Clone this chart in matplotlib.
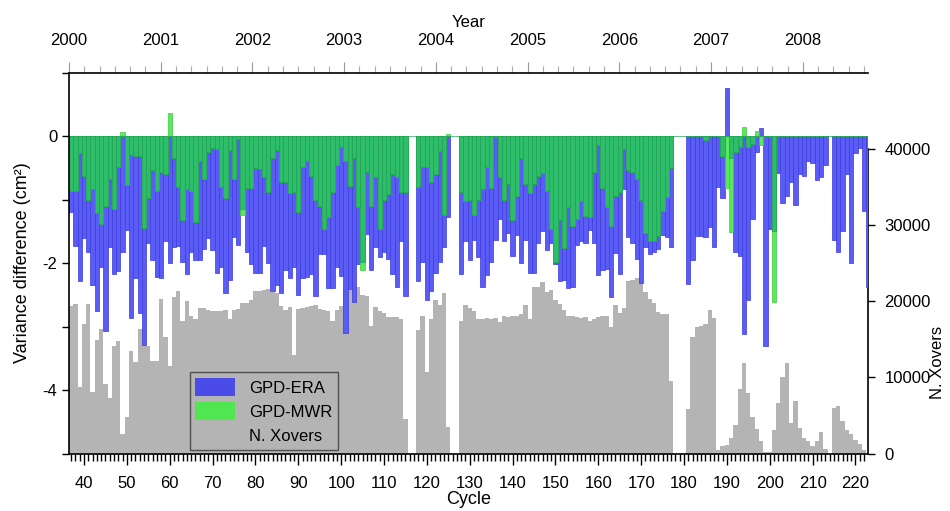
import numpy as np
import matplotlib
matplotlib.use("Agg")
import matplotlib.pyplot as plt
from matplotlib.patches import Patch

plt.rcParams['font.family'] = ['Liberation Sans', 'DejaVu Sans']
plt.rcParams['axes.unicode_minus'] = False

nan = np.nan
cycles = list(range(37, 224))

# GPD-ERA variance difference (cm^2) per cycle
gpd_era = [
    -1.19, -1.73, -2.28, -1.61, -1.83, -2.35, -2.75, -2.06, -3.07, -1.74,   # 37-46
    -2.18, -2.13, -1.82, -1.48, -2.86, -2.24, -2.78, -3.29, -1.68, -1.95,   # 47-56
    -2.22, -2.24, -1.66, -2.00, -1.74, -1.73, -1.99, -2.18, -1.82, -1.96,   # 57-66
    -1.96, -1.78, -1.61, -1.80, -2.16, -2.06, -2.47, -2.26, -1.59, -1.72,   # 67-76
    -1.15, -1.82, -2.02, -2.16, -2.15, -1.73, -2.00, -2.44, -2.35, -2.47,   # 77-86
    -2.11, -2.24, -2.06, -2.51, -2.24, -2.22, -2.17, -2.52, -1.85, -1.85,   # 87-96
    -2.40, -2.40, -2.06, -2.20, -3.10, -2.41, -2.61, -2.02, -1.98, -1.55,   # 97-106
    -2.11, -1.74, -1.90, -1.82, -1.94, -2.17, -2.37, -1.65, -2.52, nan,     # 107-116
    nan, -2.29, -1.98, -2.59, -2.44, -2.15, -1.99, -1.75, -1.27, nan,       # 117-126
    nan, -2.17, -1.66, -1.95, -1.64, -1.91, -2.37, -2.19, -1.98, -1.63,     # 127-136
    -1.31, -1.65, -1.53, -1.89, -1.56, -2.00, -1.63, -2.16, -2.15, -1.68,   # 137-146
    -1.50, -1.80, -1.68, -2.01, -2.28, -2.27, -2.40, -2.37, -1.72, -1.66,   # 147-156
    -1.69, -1.48, -1.68, -2.19, -2.11, -2.10, -2.54, -1.84, -2.17, -0.83,   # 157-166
    -1.59, -1.68, -1.93, -2.31, -1.74, -1.86, -1.82, -1.78, -1.56, -1.59,   # 167-176
    -1.75, nan, nan, nan, -2.33, -1.96, -1.57, -1.57, -1.59, -1.43,         # 177-186
    -1.74, -0.81, -0.98, 0.75, -0.34, -1.82, -1.89, -3.11, -2.58, -1.31,    # 187-196
    -0.25, 0.12, -3.31, -1.47, -1.49, -0.58, -1.06, -0.94, -0.72, -1.09,    # 197-206
    -0.60, -0.63, -0.39, -0.42, -0.69, -0.64, -0.46, nan, -1.63, -1.82,     # 207-216
    -1.49, -0.60, -2.00, -0.27, -0.19, -1.18, -2.38,                        # 217-223
]

# GPD-MWR variance difference (cm^2) per cycle
gpd_mwr = [
    -0.86, -0.86, -0.27, -0.63, -1.01, -0.84, -1.21, -1.38, -1.10, -0.68,   # 37-46
    -1.15, -0.48, 0.06, -0.77, -0.30, -0.31, -0.32, -1.45, -0.97, -0.54,    # 47-56
    -0.86, -0.56, -0.59, 0.37, -0.34, -0.80, -1.33, -0.84, -0.86, -1.35,    # 57-66
    -0.39, -0.67, -0.25, -0.19, -0.20, -0.80, -0.98, -0.22, -0.67, -0.04,   # 67-76
    -1.24, -0.82, -0.82, -0.51, -0.52, -0.65, -0.88, -0.35, -0.22, -0.73,   # 77-86
    -0.73, -0.90, -0.88, -1.19, -0.48, -0.39, -0.63, -1.01, -1.10, -1.47,   # 87-96
    -1.27, -0.88, -0.46, -0.18, -0.40, -0.79, -0.35, -1.11, -2.11, -0.56,   # 97-106
    -1.10, -0.65, -1.47, -1.01, -0.91, -0.60, -0.65, -0.88, -0.88, nan,     # 107-116
    nan, -0.81, -0.49, -0.49, -0.73, -0.59, -0.23, -1.24, 0.04, nan,        # 117-126
    nan, -0.88, -1.03, -1.01, -1.24, -1.00, -0.84, -0.48, -0.82, -0.02,     # 127-136
    -0.64, -1.00, -0.76, -1.33, -0.94, -0.34, -0.75, -0.89, -0.75, -0.63,   # 137-146
    -0.58, -0.86, -1.47, -1.99, -1.32, -1.77, -1.11, -1.42, -1.31, -1.03,   # 147-156
    -1.26, -1.28, -0.56, -0.14, -0.82, -1.11, -1.42, -0.94, -0.88, -0.21,   # 157-166
    -0.54, -0.56, -0.68, -1.00, -1.53, -1.66, -1.66, -1.57, -1.18, -0.96,   # 167-176
    -0.51, nan, nan, nan, 0.0, 0.0, 0.0, 0.0, -0.07, 0.0,                   # 177-186
    0.0, 0.0, -0.31, -0.82, -1.51, -0.25, -0.18, 0.14, -0.18, -0.12,        # 187-196
    0.08, -0.14, 0.0, -0.02, -2.61, 0.0, 0.0, 0.0, 0.0, 0.0,                # 197-206
    0.0, 0.0, 0.0, 0.0, 0.0, 0.0, 0.0, nan, 0.0, 0.0,                       # 207-216
    0.0, 0.0, 0.0, 0.0, 0.0, 0.0, 0.0,                                      # 217-223
]

# Number of crossovers per cycle
n_xovers = [
    19300, 19600, 8700, 17000, 19600, 8100, 14900, 16400, 9100, 7300,       # 37-46
    14100, 14800, 2500, 4800, 13400, 12000, 16400, 16400, 14100, 12200,     # 47-56
    12100, 20300, 15300, 11500, 20500, 21300, 17400, 20000, 18100, 17600,   # 57-66
    19100, 19100, 18900, 18700, 18700, 18700, 18900, 17700, 18800, 19000,   # 67-76
    19700, 19700, 20100, 21300, 21300, 21400, 21600, 21200, 21100, 19300,   # 77-86
    18900, 19200, 12900, 19000, 19100, 19200, 19300, 19500, 19000, 18800,   # 87-96
    18700, 17400, 18800, 19400, 21400, 21400, 22200, 21900, 20800, 20700,   # 97-106
    16700, 19200, 18700, 18500, 17900, 17900, 17900, 17700, 4500, nan,      # 107-116
    nan, 16200, 18000, 10700, 17700, 20100, 19500, 21100, 3500, nan,        # 117-126
    nan, 17400, 19500, 19100, 18700, 17700, 17700, 17800, 17700, 17800,     # 127-136
    17300, 18100, 17900, 18000, 18100, 18300, 19500, 17700, 21800, 21900,   # 137-146
    22500, 21200, 21400, 20200, 19600, 18800, 18100, 18000, 17900, 17800,   # 147-156
    17900, 17400, 17600, 17900, 18100, 18100, 16600, 19500, 18400, 19100,   # 157-166
    22600, 22800, 23100, 23300, 21200, 20300, 19700, 18600, 18300, 18300,   # 167-176
    9500, nan, nan, nan, 5800, 15300, 16600, 16800, 17000, 18900,           # 177-186
    17800, 500, 1000, 1100, 2000, 3800, 8500, 11900, 7900, 4800,            # 187-196
    3200, 1700, 200, 200, 3100, 6600, 10000, 11900, 4000, 6900,             # 197-206
    3400, 2000, 1700, 1000, 1700, 2800, 600, nan, 6000, 6300,               # 207-216
    4300, 3100, 2600, 1800, 1300, 400, nan,                                 # 217-223
]

year_ticks = [2000, 2001, 2002, 2003, 2004, 2005, 2006, 2007, 2008]

c = np.array(cycles, dtype=float)
era = np.array(gpd_era, dtype=float)
mwr = np.array(gpd_mwr, dtype=float)
nx = np.array(n_xovers, dtype=float)

same_sign = np.sign(era) == np.sign(mwr)
overlap = np.where(same_sign, np.sign(era) * np.minimum(np.abs(era), np.abs(mwr)), 0.0)

BLUE = '#5B5BF6'
BLUE_E = '#3A3AD8'
LGREEN = '#5CE85C'
LGREEN_E = '#3CCB3C'
TEAL = '#2EBE6A'
TEAL_E = '#1FA255'
GRAY = '#B4B4B4'

fig = plt.figure(figsize=(9.5, 5.11), dpi=100)
ax = fig.add_axes([0.0726, 0.1125, 0.841, 0.7455])
ax2 = ax.twinx()
ax.set_zorder(ax2.get_zorder() + 1)
ax.patch.set_visible(False)

# N. Xovers (right axis)
ax2.bar(c, nx, width=1.0, color=GRAY, edgecolor='none', linewidth=0)
ax2.set_ylim(0, 50000)

# variance differences (left axis)
ax.bar(c, era, width=1.0, color=BLUE, edgecolor=BLUE_E, linewidth=0.5)
ax.bar(c, mwr, width=1.0, color=LGREEN, edgecolor=LGREEN_E, linewidth=0.5)
ax.bar(c, overlap, width=1.0, color=TEAL, edgecolor=TEAL_E, linewidth=0.5)

ax.set_xlim(36.5, 222.9)
ax.set_ylim(-5, 1)

# bottom axis
ax.set_xticks(np.arange(40, 221, 10))
ax.set_xticks(np.arange(37, 223, 1), minor=True)
ax.tick_params(axis='x', which='major', direction='out', length=8, width=1, labelsize=12, pad=8)
ax.tick_params(axis='x', which='minor', direction='out', length=5, width=1)
ax.set_xlabel('Cycle', fontsize=13, labelpad=0)

# left axis
ax.set_yticks([-4, -2, 0])
ax.set_yticks([-5, -3, -1, 1], minor=True)
ax.tick_params(axis='y', which='both', direction='out', length=5, width=1, labelsize=12)
ax.set_ylabel('Variance difference (cm²)', fontsize=13, labelpad=8)

ax.spines['top'].set_visible(False)
ax.spines['right'].set_visible(False)
ax.spines['left'].set_linewidth(1.2)
ax.spines['bottom'].set_linewidth(1.2)

# right axis
for s in ['left', 'top', 'bottom']:
    ax2.spines[s].set_visible(False)
ax2.spines['right'].set_bounds(0, 40000)
ax2.spines['right'].set_linewidth(1.2)
ax2.set_yticks([0, 10000, 20000, 30000, 40000])
ax2.tick_params(axis='y', direction='out', length=5, width=1, labelsize=12, pad=7)
ax2.set_ylabel('N. Xovers', fontsize=12, labelpad=6)
ax2.yaxis.set_label_coords(1.078, 0.24)

# top year axis
ax3 = ax.twiny()
ax3.set_xlim(2000, 2008.71)
for s in ['left', 'right', 'bottom']:
    ax3.spines[s].set_visible(False)
ax3.spines['top'].set_linewidth(1.2)
ax3.set_xticks(year_ticks)
ax3.set_xticklabels([str(y) for y in year_ticks])
ax3.set_xticks(np.arange(2000, 2008.71, 1 / 6.0), minor=True)
ax3.tick_params(axis='x', which='major', direction='out', length=8, width=0.8,
                color='#999999', labelsize=12, pad=10)
ax3.tick_params(axis='x', which='minor', direction='out', length=5, width=0.8, color='#aaaaaa')
ax3.set_xlabel('Year', fontsize=12, labelpad=4)

handles = [Patch(facecolor='#4B4BE8', edgecolor='none', label='GPD-ERA'),
           Patch(facecolor='#50E650', edgecolor='none', label='GPD-MWR'),
           Patch(facecolor=GRAY, edgecolor='none', label='N. Xovers')]
leg = ax.legend(handles=handles, loc='lower left', bbox_to_anchor=(0.151, 0.009),
                borderaxespad=0, fontsize=12, handlelength=2.4, handleheight=1.3,
                labelspacing=0.35, frameon=True, fancybox=False, framealpha=1,
                borderpad=0.35, handletextpad=0.8)
leg.get_frame().set_facecolor(GRAY)
leg.get_frame().set_edgecolor('#505050')
leg.get_frame().set_linewidth(1.0)

fig.savefig('out.png', dpi=100)
